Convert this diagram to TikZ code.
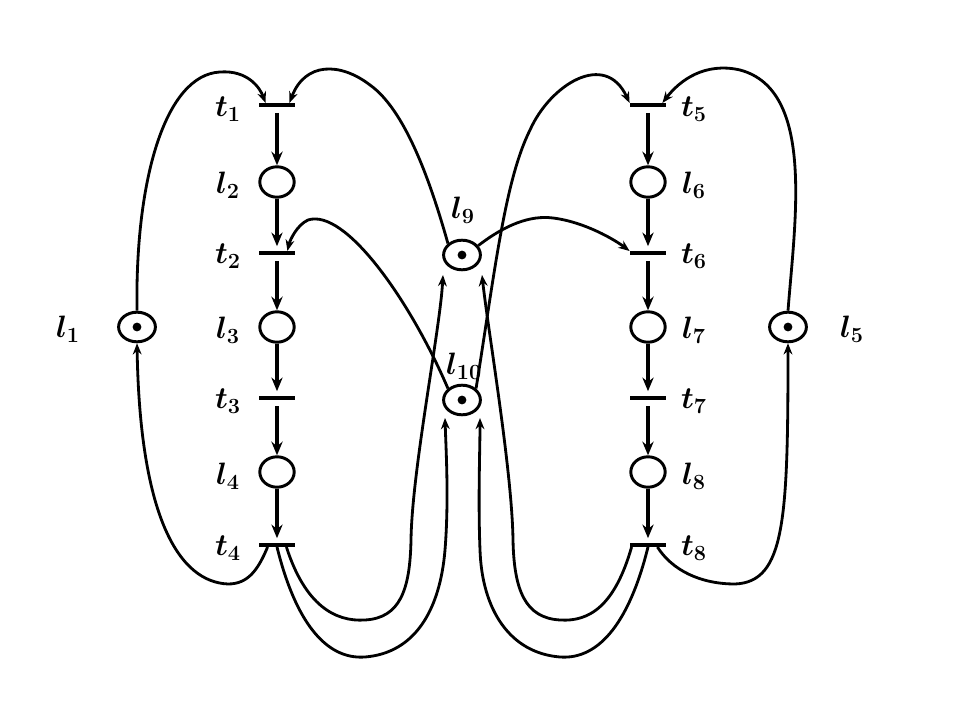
\documentclass[tikz,border=0pt]{standalone}
\usepackage{fix-cm}
\usetikzlibrary{arrows.meta,calc,shapes.geometric}
\begin{document}
\begin{tikzpicture}[x=0.025cm,y=-0.025cm,
  place/.style={ellipse,draw,line width=2.1pt,minimum width=0.86cm,minimum height=0.76cm,inner sep=0pt},
  marked/.style={place,minimum width=0.92cm,minimum height=0.74cm,path picture={\fill (path picture bounding box.center) circle (0.11cm);}},
  trans/.style={fill,minimum width=0.92cm,minimum height=0.1cm,inner sep=0pt,outer sep=0pt},
  lbl/.style={font=\fontsize{22}{26}\selectfont\boldmath,inner sep=0pt},
  vflow/.style={line width=2.6pt,-{Stealth[length=3.4mm,width=2.8mm]}},
  arc/.style={line width=2pt,-{Stealth[length=2.8mm,width=2.2mm]}}]
\useasboundingbox (0,0) rectangle (960,720);

% left column
\node[trans] (t1) at (277,105) {};
\node[place] (l2) at (277,182) {};
\node[trans] (t2) at (277,253) {};
\node[place] (l3) at (277,327) {};
\node[trans] (t3) at (277,398) {};
\node[place] (l4) at (277,472) {};
\node[trans] (t4) at (277,545) {};
% right column
\node[trans] (t5) at (648,105) {};
\node[place] (l6) at (648,182) {};
\node[trans] (t6) at (648,253) {};
\node[place] (l7) at (648,327) {};
\node[trans] (t7) at (648,398) {};
\node[place] (l8) at (648,472) {};
\node[trans] (t8) at (648,545) {};
% marked places
\node[marked] (l1) at (137,327) {};
\node[marked] (l5) at (788,327) {};
\node[marked] (l9) at (462,255) {};
\node[marked] (l10) at (462,400) {};

% labels
\node[lbl] (lt1) at (228,109) {$t_1$};
\node[lbl] (ll2) at (228,185) {$l_2$};
\node[lbl] (lt2) at (228,256) {$t_2$};
\node[lbl] (ll3) at (228,330) {$l_3$};
\node[lbl] (lt3) at (228,401) {$t_3$};
\node[lbl] (ll4) at (228,476) {$l_4$};
\node[lbl] (lt4) at (228,548) {$t_4$};
\node[lbl] (lt5) at (694,109) {$t_5$};
\node[lbl] (ll6) at (694,185) {$l_6$};
\node[lbl] (lt6) at (694,256) {$t_6$};
\node[lbl] (ll7) at (694,330) {$l_7$};
\node[lbl] (lt7) at (694,401) {$t_7$};
\node[lbl] (ll8) at (694,476) {$l_8$};
\node[lbl] (lt8) at (694,548) {$t_8$};
\node[lbl] (ll1) at (68,329) {$l_1$};
\node[lbl] (ll5) at (852,329) {$l_5$};
\node[lbl] (ll9) at (463,210) {$l_9$};
\node[lbl] (ll10) at (464,366) {$l_{10}$};

% vertical flows
\draw[vflow,shorten <=0.15cm] (t1) -- (l2);
\draw[vflow,shorten >=0.12cm] (l2) -- (t2);
\draw[vflow,shorten <=0.15cm] (t2) -- (l3);
\draw[vflow,shorten >=0.12cm] (l3) -- (t3);
\draw[vflow,shorten <=0.15cm] (t3) -- (l4);
\draw[vflow,shorten >=0.12cm] (l4) -- (t4);
\draw[vflow,shorten <=0.15cm] (t5) -- (l6);
\draw[vflow,shorten >=0.12cm] (l6) -- (t6);
\draw[vflow,shorten <=0.15cm] (t6) -- (l7);
\draw[vflow,shorten >=0.12cm] (l7) -- (t7);
\draw[vflow,shorten <=0.15cm] (t7) -- (l8);
\draw[vflow,shorten >=0.12cm] (l8) -- (t8);

% l1 <-> left column
\draw[arc] (l1.north) .. controls (135,180) and (165,75) .. (220,72)
  .. controls (248,70) and (260,88) .. ($(t1.north west)+(7,0)$);
\draw[arc] ($(t4.south west)+(9,0)$) .. controls (258,570) and (248,584) .. (228,584)
  .. controls (180,582) and (140,520) .. (l1.south);
% l5 <-> right column
\draw[arc] (l5.north) .. controls (795,220) and (815,90) .. (740,70)
  .. controls (705,62) and (680,80) .. ($(t5.north east)+(-4,0)$);
\draw[arc] ($(t8.south east)+(-9,0)$) .. controls (672,570) and (700,584) .. (735,584)
  .. controls (785,582) and (788,520) .. (l5.south);

% l9 -> t1, l10 -> t2
\draw[arc] (l9.north west) .. controls (430,180) and (405,110) .. (370,85)
  .. controls (340,62) and (305,62) .. ($(t1.north east)+(-6,0)$);
\draw[arc] (l10.north west) .. controls (410,300) and (345,208) .. (308,220)
  .. controls (297,225) and (290,240) .. ($(t2.north east)+(-8,0)$);
% l10 -> t5, l9 -> t6
\draw[arc] (l10.north east) .. controls (495,270) and (505,180) .. (530,130)
  .. controls (550,85) and (605,50) .. (t5.north west);
\draw[arc] (l9.30) .. controls (505,225) and (530,215) .. (553,218)
  .. controls (585,222) and (615,240) .. (t6.north west);

% t4 -> l9 (inner), t4 -> l10 (outer)
\draw[arc] ($(t4.south east)+(-9,0)$) .. controls (305,605) and (335,622) .. (365,620)
  .. controls (400,618) and (410,590) .. (411,540)
  .. controls (412,470) and (440,330) .. ($(l9.center)+(-19,20)$);
\draw[arc] (t4.south) .. controls (295,620) and (325,660) .. (365,657)
  .. controls (415,653) and (440,610) .. (445,550)
  .. controls (449,500) and (446,450) .. ($(l10.center)+(-17,18)$);
% t8 -> l9 (inner), t8 -> l10 (outer)
\draw[arc] ($(t8.south west)+(2,0)$) .. controls (615,605) and (590,622) .. (560,620)
  .. controls (525,618) and (514,590) .. (513,540)
  .. controls (512,470) and (488,330) .. ($(l9.center)+(20,20)$);
\draw[arc] (t8.south) .. controls (630,620) and (600,660) .. (560,657)
  .. controls (510,653) and (482,610) .. (480,550)
  .. controls (478,500) and (480,450) .. ($(l10.center)+(18,18)$);
\end{tikzpicture}
\end{document}
